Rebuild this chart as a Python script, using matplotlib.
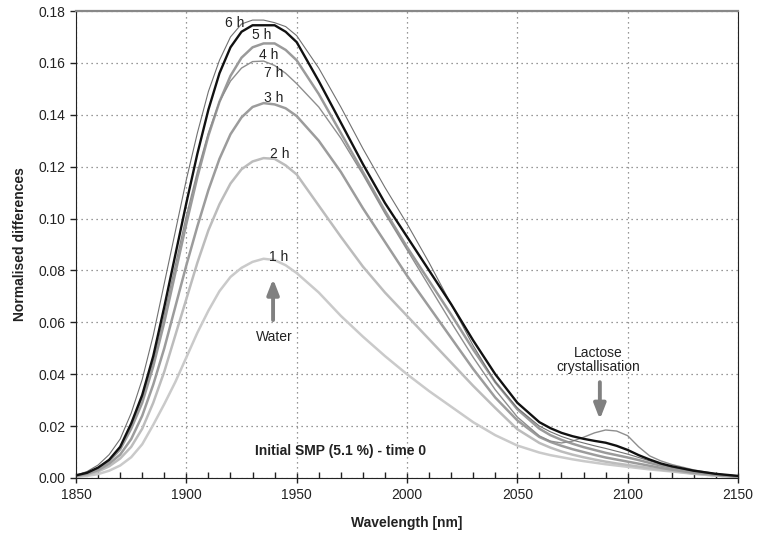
import matplotlib.pyplot as plt

plt.rcParams['font.family'] = ['Liberation Sans', 'DejaVu Sans']

## DATA
#  wavelength grid (nm), finer steps where the curves bend
wavelength = [1850, 1855, 1860, 1865, 1870, 1875, 1880, 1885, 1890, 1895,
              1900, 1905, 1910, 1915, 1920, 1925, 1930, 1935, 1940, 1945, 1950,
              1960, 1970, 1980, 1990, 2000, 2010, 2020, 2030, 2040, 2050,
              2060, 2065, 2070, 2075, 2080, 2085, 2090, 2095, 2100, 2105, 2110, 2115, 2120,
              2130, 2140, 2150]

h1 = [0.0004, 0.0008, 0.0015, 0.0028, 0.0048, 0.008, 0.013, 0.0205, 0.0285, 0.037,
      0.0465, 0.056, 0.0645, 0.072, 0.0775, 0.081, 0.0833, 0.0845, 0.084, 0.082, 0.079,
      0.0715, 0.0625, 0.0545, 0.047, 0.040, 0.0335, 0.0275, 0.0215, 0.0165, 0.0125,
      0.0098, 0.0088, 0.0080, 0.0072, 0.0065, 0.0059, 0.0053, 0.0048, 0.0043, 0.0038, 0.0033, 0.0029, 0.0025,
      0.0016, 0.0009, 0.0004]

h2 = [0.0006, 0.0012, 0.0025, 0.0045, 0.0075, 0.012, 0.019, 0.029, 0.041, 0.055,
      0.069, 0.083, 0.0955, 0.1055, 0.1135, 0.119, 0.122, 0.1233, 0.123, 0.1205, 0.117,
      0.105, 0.093, 0.0815, 0.0715, 0.0625, 0.0535, 0.0445, 0.0355, 0.027, 0.0188,
      0.0135, 0.0117, 0.0102, 0.0090, 0.0080, 0.0071, 0.0063, 0.0056, 0.0050, 0.0044, 0.0038, 0.0032, 0.0027,
      0.0017, 0.0009, 0.0004]

h3 = [0.0008, 0.0016, 0.003, 0.0055, 0.009, 0.015, 0.024, 0.036, 0.050, 0.066,
      0.082, 0.097, 0.111, 0.123, 0.1325, 0.139, 0.143, 0.1445, 0.144, 0.1425, 0.1395,
      0.130, 0.118, 0.104, 0.091, 0.078, 0.066, 0.054, 0.042, 0.031, 0.0222,
      0.0158, 0.0139, 0.0124, 0.0111, 0.0100, 0.0089, 0.0079, 0.0071, 0.0063, 0.0055, 0.0047, 0.0039, 0.0032,
      0.002, 0.0012, 0.0005]

h4 = [0.001, 0.002, 0.0035, 0.0065, 0.011, 0.019, 0.029, 0.043, 0.060, 0.079,
      0.098, 0.116, 0.132, 0.145, 0.155, 0.162, 0.166, 0.1675, 0.1675, 0.165, 0.161,
      0.148, 0.133, 0.118, 0.103, 0.089, 0.076, 0.063, 0.0495, 0.037, 0.0265,
      0.0190, 0.0165, 0.0147, 0.0132, 0.0119, 0.0108, 0.0097, 0.0088, 0.0079, 0.0069, 0.0058, 0.0048, 0.0039,
      0.0024, 0.0013, 0.0006]

h5 = [0.001, 0.002, 0.004, 0.007, 0.012, 0.021, 0.032, 0.047, 0.066, 0.086,
      0.106, 0.125, 0.142, 0.156, 0.166, 0.172, 0.1745, 0.1745, 0.1745, 0.172, 0.168,
      0.153, 0.137, 0.121, 0.106, 0.093, 0.080, 0.067, 0.053, 0.040, 0.029,
      0.0215, 0.0192, 0.0174, 0.0161, 0.0151, 0.0143, 0.0136, 0.0124, 0.0108, 0.0088, 0.0071, 0.0056, 0.0045,
      0.0028, 0.0016, 0.0008]

h6 = [0.001, 0.0025, 0.005, 0.009, 0.015, 0.025, 0.038, 0.055, 0.075, 0.095,
      0.115, 0.133, 0.149, 0.161, 0.170, 0.175, 0.1765, 0.1765, 0.1755, 0.174, 0.1705,
      0.158, 0.143, 0.127, 0.112, 0.098, 0.083, 0.067, 0.051, 0.037, 0.027,
      0.0200, 0.0178, 0.0160, 0.0146, 0.0135, 0.0124, 0.0114, 0.0103, 0.0092, 0.0079, 0.0066, 0.0054, 0.0043,
      0.0027, 0.0014, 0.0006]

h7 = [0.001, 0.002, 0.004, 0.007, 0.0115, 0.020, 0.031, 0.045, 0.063, 0.082,
      0.101, 0.118, 0.133, 0.145, 0.153, 0.158, 0.1605, 0.1607, 0.159, 0.156, 0.152,
      0.143, 0.131, 0.117, 0.102, 0.088, 0.074, 0.060, 0.0465, 0.034, 0.0235,
      0.0162, 0.0142, 0.0135, 0.0142, 0.0157, 0.0174, 0.0185, 0.0181, 0.0163, 0.0120, 0.0085, 0.0066, 0.0052,
      0.0031, 0.0016, 0.0007]

labels = ["1 h", "2 h", "3 h", "4 h", "5 h", "6 h", "7 h"]
label_x = [1942, 1942.4, 1939.4, 1937.1, 1934.1, 1922, 1939.4]
label_y = [0.0852, 0.1249, 0.1463, 0.163, 0.1707, 0.1755, 0.156]


## PLOT
fig = plt.figure(figsize=(7.58, 5.34), dpi=100)
ax = fig.add_axes([0.1003, 0.1049, 0.8733, 0.8745])

# light curves first, black 5 h on top
ax.plot(wavelength, h1, color='#cacaca', lw=1.8)
ax.plot(wavelength, h2, color='#bcbcbc', lw=1.8)
ax.plot(wavelength, h3, color='#9c9c9c', lw=1.8)
ax.plot(wavelength, h4, color='#9a9a9a', lw=1.8)
ax.plot(wavelength, h7, color='#8e8e8e', lw=1.0)
ax.plot(wavelength, h6, color='#707070', lw=0.8)
ax.plot(wavelength, h5, color='#111111', lw=1.7)

for lab, lx, ly in zip(labels, label_x, label_y):
    ax.text(lx, ly, lab, fontsize=10, color='#222222', ha='center', va='center')

# annotations
ax.annotate('', xy=(1939.3, 0.0778), xytext=(1939.3, 0.0598),
            arrowprops=dict(arrowstyle='-|>,head_width=0.35,head_length=0.9',
                            color='#808080', lw=2.8))
ax.text(1940, 0.0543, 'Water', fontsize=10, color='#222222', ha='center', va='center')

ax.annotate('', xy=(2087.4, 0.0215), xytext=(2087.4, 0.038),
            arrowprops=dict(arrowstyle='-|>,head_width=0.35,head_length=0.9',
                            color='#808080', lw=2.8))
ax.text(2086.5, 0.0455, 'Lactose\ncrystallisation', fontsize=10, color='#222222',
        ha='center', va='center', linespacing=1.0)

ax.text(1970, 0.0104, 'Initial SMP (5.1 %) - time 0', fontsize=10, fontweight='bold',
        color='#222222', ha='center', va='center')

## AXES
ax.set_xlim(1850, 2150)
ax.set_ylim(0, 0.18)
ax.set_xticks(range(1850, 2151, 50))
ax.set_xticks(range(1850, 2151, 10), minor=True)
ax.set_yticks([i * 0.02 for i in range(10)])
ax.set_yticklabels(["%.2f" % (i * 0.02) for i in range(10)])
ax.tick_params(axis='x', which='major', direction='inout', length=7, width=1,
               labelsize=10, pad=4, colors='#222222')
ax.tick_params(axis='x', which='minor', direction='in', length=4, width=1, colors='#222222')
ax.tick_params(axis='y', which='major', direction='out', length=4, width=1,
               labelsize=10, colors='#222222')

ax.grid(True, which='major', color='#777777', linestyle=(0, (1, 3)), lw=0.9)

ax.spines['top'].set_color('#888888')
ax.spines['top'].set_linewidth(1.6)
ax.spines['right'].set_color('#222222')
ax.spines['left'].set_color('#222222')
ax.spines['bottom'].set_color('#222222')

ax.set_xlabel('Wavelength [nm]', fontsize=10, fontweight='bold', color='#222222', labelpad=10)
ax.set_ylabel('Normalised differences', fontsize=10, fontweight='bold', color='#222222', labelpad=8)

fig.savefig('out.png', dpi=100)
